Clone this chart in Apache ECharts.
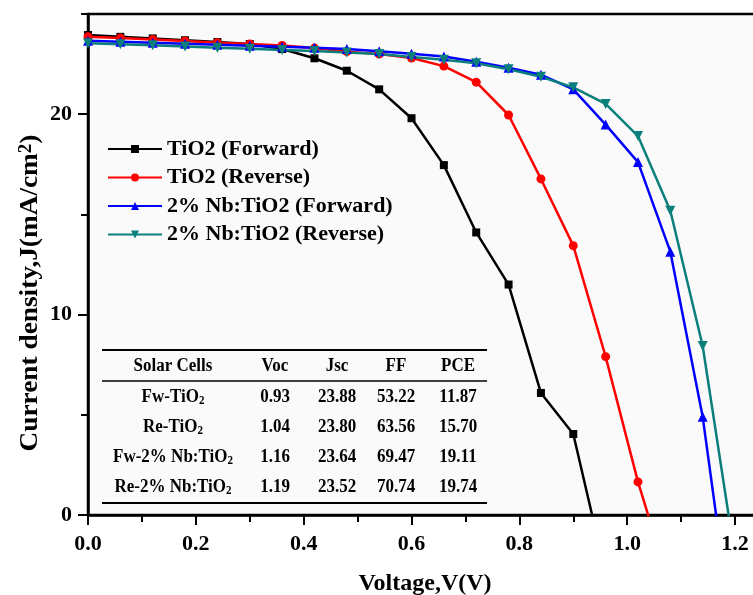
<!DOCTYPE html>
<html>
<head>
<meta charset="utf-8">
<script src="https://cdn.jsdelivr.net/npm/echarts@6/dist/echarts.min.js"></script>
<style>
  html, body { margin: 0; padding: 0; background: #fff; }
  #main { width: 753px; height: 595px; }
</style>
</head>
<body>
<div id="main"></div>
<script>
// J-V data, voltage in V, current density in mA/cm2
const voltage = [0, 0.06, 0.12, 0.18, 0.24, 0.30, 0.36, 0.42, 0.48, 0.54, 0.60,
                 0.66, 0.72, 0.78, 0.84, 0.90, 0.96, 1.02, 1.08, 1.14, 1.20];
const fwTiO2 = [23.95, 23.86, 23.78, 23.69, 23.60, 23.50, 23.25, 22.79, 22.17, 21.24, 19.80,
                17.46, 14.10, 11.50, 6.09, 4.04, -2.9];
const reTiO2 = [23.87, 23.80, 23.73, 23.65, 23.57, 23.50, 23.43, 23.30, 23.12, 23.00, 22.80,
                22.40, 21.60, 19.96, 16.77, 13.44, 7.90, 1.65, -3.6];
const fwNbTiO2 = [23.67, 23.62, 23.57, 23.52, 23.47, 23.42, 23.36, 23.32, 23.25, 23.14, 23.02,
                  22.88, 22.62, 22.32, 21.97, 21.24, 19.48, 17.61, 13.14, 4.90, -6.9];
const reNbTiO2 = [23.54, 23.49, 23.44, 23.38, 23.32, 23.26, 23.20, 23.15, 23.08, 23.00, 22.86,
                  22.72, 22.54, 22.24, 21.87, 21.34, 20.51, 18.91, 15.18, 8.43, -2.1];

const seriesNames = ['TiO2 (Forward)', 'TiO2 (Reverse)', '2% Nb:TiO2 (Forward)', '2% Nb:TiO2 (Reverse)'];
const colors = ['#000000', '#ff0000', '#0000ff', '#0b7f7c'];

const xTickLabels = [0, 0.2, 0.4, 0.6, 0.8, 1.0, 1.2];
const yTickLabels = [0, 10, 20];

// photovoltaic parameters table
const tableHeader = ['Solar Cells', 'Voc', 'Jsc', 'FF', 'PCE'];
const cellNames = ['Fw-TiO2', 'Re-TiO2', 'Fw-2% Nb:TiO2', 'Re-2% Nb:TiO2'];
const vocValues = [0.93, 1.04, 1.16, 1.19];
const jscValues = [23.88, 23.80, 23.64, 23.52];
const ffValues = [53.22, 63.56, 69.47, 70.74];
const pceValues = [11.87, 15.70, 19.11, 19.74];

const font = '"Times New Roman", "Liberation Serif", serif';
const chart = echarts.init(document.getElementById('main'));

function toPairs(values) {
    return values.map((j, i) => [voltage[i], j]);
}

const symbols = [
    { symbol: 'rect', size: 8, rotate: 0 },
    { symbol: 'circle', size: 9, rotate: 0 },
    { symbol: 'triangle', size: 10, rotate: 0 },
    { symbol: 'triangle', size: 10, rotate: 180 }
];

function getSeries() {
    return [fwTiO2, reTiO2, fwNbTiO2, reNbTiO2].map((values, i) => ({
        name: seriesNames[i],
        type: 'line',
        symbol: symbols[i].symbol,
        symbolSize: symbols[i].size,
        symbolRotate: symbols[i].rotate,
        showAllSymbol: true,
        clip: true,
        lineStyle: { color: colors[i], width: 2.5 },
        itemStyle: { color: colors[i] },
        data: toPairs(values)
    }));
}

// table drawn as graphic text / rules
const colX = [173, 275, 337, 396, 458];
const rowY = [366, 397, 427, 457, 487];
const cellStyle = { fontSize: 17, fontWeight: 'bold', fontFamily: font, fill: '#000', align: 'center', verticalAlign: 'middle' };
const richSub = {
    n: { fontSize: 17, fontWeight: 'bold', fontFamily: font },
    s: { fontSize: 11, fontWeight: 'bold', fontFamily: font, verticalAlign: 'bottom', padding: [7, 0, 0, 0] }
};

function withSub(name) {
    return '{n|' + name.slice(0, -1) + '}{s|' + name.slice(-1) + '}';
}

function getTable() {
    const els = [
        { type: 'line', shape: { x1: 102, y1: 350, x2: 487, y2: 350 }, style: { stroke: '#000', lineWidth: 2 } },
        { type: 'line', shape: { x1: 102, y1: 381, x2: 487, y2: 381 }, style: { stroke: '#000', lineWidth: 1.5 } },
        { type: 'line', shape: { x1: 102, y1: 503, x2: 487, y2: 503 }, style: { stroke: '#000', lineWidth: 2 } }
    ];
    tableHeader.forEach((h, c) => {
        els.push({ type: 'text', x: colX[c], y: rowY[0], scaleY: 1.1, style: Object.assign({ text: h }, cellStyle) });
    });
    cellNames.forEach((name, r) => {
        const row = [withSub(name), vocValues[r].toFixed(2), jscValues[r].toFixed(2),
                     ffValues[r].toFixed(2), pceValues[r].toFixed(2)];
        row.forEach((t, c) => {
            const st = Object.assign({ text: t }, cellStyle);
            if (c === 0) st.rich = richSub;
            els.push({ type: 'text', x: colX[c], y: rowY[r + 1], scaleY: 1.1, style: st });
        });
    });
    // y axis title, rotated, with superscript
    els.push({
        type: 'text', x: 30, y: 293, rotation: Math.PI / 2, scaleX: 1.05,
        style: {
            text: '{a|Current density,J(mA/cm}{b|2}{a|)}',
            align: 'center', verticalAlign: 'middle',
            rich: {
                a: { fontSize: 26, fontWeight: 'bold', fontFamily: font, fill: '#000' },
                b: { fontSize: 18, fontWeight: 'bold', fontFamily: font, fill: '#000', verticalAlign: 'top', padding: [0, 0, 8, 0] }
            }
        }
    });
    return els;
}

const tickFont = { fontSize: 22, fontWeight: 'bold', fontFamily: font, color: '#000' };

chart.setOption({
    animation: false,
    backgroundColor: '#ffffff',
    grid: {
        left: 88, top: 14, width: 674, height: 501,
        outerBoundsMode: 'none',
        show: true, backgroundColor: '#fafafa', borderColor: '#000', borderWidth: 2.5
    },
    legend: {
        orient: 'vertical',
        left: 107, top: 138, padding: 0,
        itemWidth: 54, itemHeight: 10, itemGap: 6.5,
        textStyle: { fontSize: 22, fontWeight: 'bold', fontFamily: font, color: '#000', lineHeight: 22 },
        data: seriesNames
    },
    xAxis: [{
        type: 'value', position: 'bottom',
        min: 0, max: 1.25, interval: 0.1,
        name: 'Voltage,V(V)', nameLocation: 'middle', nameGap: 57,
        nameTextStyle: { fontSize: 24, fontWeight: 'bold', fontFamily: font, color: '#000' },
        axisLine: { lineStyle: { color: '#000', width: 2.5 } },
        axisTick: { length: 7, lineStyle: { color: '#000', width: 2 } },
        axisLabel: Object.assign({ margin: 18, customValues: xTickLabels, formatter: v => v.toFixed(1) }, tickFont),
        splitLine: { show: false }
    }, {
        type: 'value', position: 'bottom',
        min: 0, max: 1.25, interval: 0.2,
        axisLine: { show: false },
        axisTick: { length: 10, customValues: xTickLabels, lineStyle: { color: '#000', width: 2 } },
        axisLabel: { show: false },
        splitLine: { show: false }
    }],
    yAxis: [{
        type: 'value', position: 'left',
        min: 0, max: 25, interval: 5,
        axisLine: { lineStyle: { color: '#000', width: 2.5 } },
        axisTick: { length: 7, lineStyle: { color: '#000', width: 2 } },
        axisLabel: Object.assign({ margin: 16, customValues: yTickLabels }, tickFont),
        splitLine: { show: false }
    }, {
        type: 'value', position: 'left',
        min: 0, max: 25, interval: 10,
        axisLine: { show: false },
        axisTick: { length: 10, customValues: yTickLabels, lineStyle: { color: '#000', width: 2 } },
        axisLabel: { show: false },
        splitLine: { show: false }
    }],
    series: getSeries(),
    graphic: { elements: getTable() }
});

window.addEventListener('resize', () => {
    chart.resize();
});
</script>
</body>
</html>
